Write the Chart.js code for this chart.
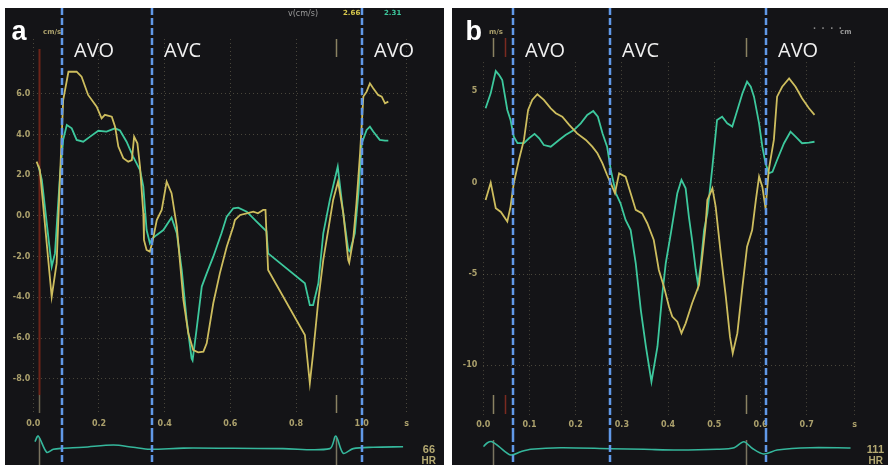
<!DOCTYPE html>
<html><head><meta charset="utf-8">
<script src="https://cdn.jsdelivr.net/npm/chart.js@4.4.1/dist/chart.umd.min.js"></script>
<style>
html,body{margin:0;padding:0;background:#fff;}
body{width:888px;height:465px;position:relative;overflow:hidden;}
.panel{position:absolute;background:#141417;overflow:hidden;}
canvas{position:absolute;left:0;}
</style></head>
<body>
<div class="panel" style="left:5px;top:8px;width:439px;height:457px;">
  <canvas id="mainA" width="439" height="427" style="top:0"></canvas>
  <canvas id="ecgA" width="439" height="30" style="top:427px"></canvas>
</div>
<div class="panel" style="left:452px;top:8px;width:436px;height:457px;">
  <canvas id="mainB" width="436" height="427" style="top:0"></canvas>
  <canvas id="ecgB" width="436" height="30" style="top:427px"></canvas>
</div>
<script>
// ---------- Panel a data (time s, velocity) ----------
const aYellowT = [0.010,0.020,0.056,0.071,0.081,0.091,0.107,0.132,0.147,0.167,0.193,0.208,0.218,0.239,0.249,0.259,0.274,0.289,0.300,0.307,0.317,0.325,0.335,0.337,0.345,0.355,0.363,0.376,0.391,0.406,0.421,0.437,0.457,0.472,0.487,0.502,0.518,0.528,0.548,0.568,0.589,0.609,0.614,0.630,0.650,0.670,0.684,0.700,0.707,0.710,0.715,0.827,0.842,0.852,0.868,0.883,0.903,0.913,0.928,0.944,0.959,0.962,0.974,0.984,0.995,1.005,1.015,1.025,1.035,1.050,1.061,1.071,1.081];
const aYellowV = [2.67,2.26,-3.97,-2.33,1.77,5.70,7.09,7.10,6.85,5.95,5.37,4.80,4.97,4.88,4.39,3.41,2.84,2.67,2.75,3.90,3.57,2.42,0.13,-1.18,-1.67,-1.75,-1.26,-0.20,0.30,1.69,1.12,-0.52,-4.13,-5.77,-6.59,-6.70,-6.67,-6.26,-4.29,-2.82,-1.51,-0.52,-0.20,0.05,0.13,0.21,0.13,0.30,0.30,-0.85,-2.65,-5.85,-8.22,-6.75,-4.13,-2.16,-0.20,0.79,1.69,0.13,-2.16,-2.30,-1.18,0.62,3.08,5.87,6.11,6.52,6.28,5.95,5.87,5.54,5.62];
const aGreenT = [0.015,0.026,0.056,0.066,0.081,0.091,0.102,0.117,0.132,0.152,0.173,0.198,0.223,0.249,0.264,0.284,0.304,0.325,0.335,0.345,0.355,0.363,0.376,0.396,0.421,0.437,0.452,0.467,0.482,0.485,0.497,0.513,0.528,0.548,0.573,0.589,0.609,0.624,0.650,0.680,0.710,0.715,0.827,0.842,0.852,0.868,0.883,0.903,0.927,0.944,0.959,0.964,0.979,0.990,1.000,1.015,1.025,1.035,1.055,1.071,1.081];
const aGreenV = [2.50,1.77,-2.49,-1.84,1.93,3.74,4.47,4.31,3.74,3.65,3.90,4.19,4.15,4.31,4.20,3.65,2.92,2.26,1.44,-0.69,-1.34,-1.10,-0.93,-0.69,-0.08,-0.85,-2.65,-5.11,-7.00,-7.10,-5.60,-3.47,-2.82,-2.00,-0.85,-0.03,0.38,0.41,0.21,-0.28,-0.75,-1.84,-3.31,-4.38,-4.38,-3.31,-0.85,0.79,2.42,0.10,-1.67,-1.75,-0.85,1.12,3.57,4.23,4.39,4.15,3.74,3.70,3.70];
const aEcgT = [0.005,0.015,0.041,0.061,0.086,0.152,0.244,0.304,0.355,0.457,0.609,0.760,0.903,0.921,0.944,0.974,1.035,1.126];
const aEcgV = [0.66,1.23,-0.40,-0.10,0.00,0.10,0.33,0.10,-0.10,0.02,0.00,-0.03,-0.03,1.23,-0.50,-0.03,0.10,0.16];
const aEvents = [0.088, 0.360, 1.000];
const aEventNames = ['AVO','AVC','AVO'];
const aMarkers = [0.018, 0.921];
const aXTicks = [0.0,0.2,0.4,0.6,0.8,1.0];
const aYTicks = [-8,-6,-4,-2,0,2,4,6];
const aHR = '66';

// ---------- Panel b data ----------
const bYellowT = [0.005,0.016,0.027,0.038,0.052,0.059,0.066,0.077,0.088,0.097,0.106,0.117,0.131,0.146,0.157,0.171,0.186,0.203,0.222,0.236,0.247,0.258,0.268,0.279,0.285,0.294,0.308,0.319,0.330,0.344,0.355,0.369,0.380,0.391,0.402,0.409,0.420,0.429,0.438,0.452,0.467,0.474,0.481,0.485,0.496,0.503,0.514,0.525,0.534,0.540,0.550,0.561,0.571,0.582,0.590,0.597,0.604,0.611,0.618,0.629,0.636,0.647,0.662,0.676,0.690,0.705,0.717];
const bYellowV = [-0.95,0.00,-1.40,-1.60,-2.13,-1.31,-0.03,1.24,2.34,3.98,4.53,4.84,4.53,4.07,3.80,3.61,3.16,2.70,2.34,1.97,1.61,1.06,0.42,-0.22,-0.58,0.51,0.33,-0.58,-1.49,-1.68,-2.22,-3.14,-4.78,-5.69,-6.79,-7.33,-7.61,-8.24,-7.70,-6.60,-5.60,-4.05,-2.41,-0.95,-0.31,-1.31,-3.87,-6.24,-8.43,-9.34,-8.24,-5.69,-3.50,-2.59,-0.95,0.33,-0.22,-1.40,0.70,2.34,4.71,5.25,5.71,5.25,4.62,4.07,3.71];
const bGreenT = [0.005,0.016,0.027,0.034,0.041,0.052,0.059,0.066,0.074,0.088,0.099,0.111,0.121,0.131,0.146,0.164,0.178,0.196,0.211,0.225,0.238,0.248,0.258,0.268,0.276,0.287,0.297,0.308,0.319,0.330,0.341,0.352,0.364,0.377,0.387,0.395,0.406,0.413,0.420,0.429,0.438,0.445,0.452,0.460,0.465,0.471,0.478,0.485,0.496,0.506,0.517,0.528,0.539,0.550,0.561,0.571,0.579,0.586,0.597,0.604,0.611,0.618,0.626,0.636,0.651,0.665,0.676,0.690,0.705,0.717];
const bGreenV = [4.07,4.89,6.11,5.90,5.62,3.98,3.43,2.52,2.16,2.16,2.43,2.67,2.43,2.06,1.97,2.34,2.61,2.88,3.25,3.71,3.92,3.61,2.70,1.97,0.70,-0.58,-1.13,-2.04,-2.59,-4.41,-6.97,-8.98,-10.89,-8.98,-6.24,-4.41,-2.77,-1.68,-0.58,0.15,-0.31,-1.86,-3.14,-4.78,-5.60,-4.41,-2.59,-1.68,0.88,3.43,3.61,3.25,3.07,3.98,4.89,5.53,5.25,4.71,3.25,1.97,1.06,0.51,0.60,1.24,2.16,2.79,2.52,2.16,2.19,2.24];
const bEcgT = [0.000,0.009,0.019,0.034,0.059,0.081,0.103,0.168,0.276,0.348,0.420,0.506,0.543,0.564,0.582,0.607,0.636,0.708,0.795];
const bEcgV = [0.16,0.56,0.66,0.16,-0.67,-0.34,-0.10,0.06,-0.04,-0.10,-0.17,-0.10,0.06,0.66,0.00,-0.57,-0.17,0.06,0.03];
const bEvents = [0.064, 0.274, 0.613];
const bEventNames = ['AVO','AVC','AVO'];
const bMarkers = [0.022, 0.047, 0.568];
const bXTicks = [0.0,0.1,0.2,0.3,0.4,0.5,0.6,0.7];
const bYTicks = [-10,-5,0,5];
const bHR = '111';

// ---------- styles ----------
const YELLOW = '#cdbd5e', GREEN = '#3dc89d', ECG = '#35b79c';
const TICK = '#aba06c', GRID = 'rgba(125,120,95,0.5)';
const BLUE = '#6199e8';
const tickFont = {family:'DejaVu Sans', size:8, weight:'bold'};

const pts = (ts, vs) => ts.map((t, i) => ({x: t, y: vs[i]}));

const overlay = {
  id: 'overlay',
  beforeDatasetsDraw(chart, args, o) {
    const ctx = chart.ctx, xs = chart.scales.x;
    ctx.save();
    (o.markers || []).forEach(m => {
      const px = Math.round(xs.getPixelForValue(m.t)) + 0.5;
      ctx.strokeStyle = m.color; ctx.lineWidth = m.w || 1.5;
      m.segs.forEach(s => { ctx.beginPath(); ctx.moveTo(px, s[0]); ctx.lineTo(px, s[1]); ctx.stroke(); });
    });
    ctx.restore();
  },
  afterDatasetsDraw(chart, args, o) {
    const ctx = chart.ctx, xs = chart.scales.x, H = chart.height;
    ctx.save();
    o.events.forEach((t, i) => {
      const px = Math.round(xs.getPixelForValue(t));
      ctx.strokeStyle = BLUE; ctx.lineWidth = 2.5; ctx.setLineDash([7, 3]);
      ctx.beginPath(); ctx.moveTo(px, 0); ctx.lineTo(px, H); ctx.stroke();
      if (o.names) {
        ctx.setLineDash([]);
        ctx.fillStyle = '#f0f0f0'; ctx.font = '20px "Open Sans"';
        ctx.textAlign = 'left'; ctx.textBaseline = 'alphabetic';
        ctx.fillText(o.names[i], px + 12, o.nameY);
      }
    });
    ctx.setLineDash([]);
    (o.texts || []).forEach(tx => {
      ctx.font = tx.font; ctx.fillStyle = tx.color;
      ctx.textAlign = tx.align || 'left'; ctx.textBaseline = tx.base || 'middle';
      ctx.fillText(tx.s, tx.x, tx.y);
    });
    ctx.restore();
  }
};

function mainChart(id, c) {
  return new Chart(document.getElementById(id), {
    type: 'line',
    data: { datasets: [
      {data: pts(c.yt, c.yv), borderColor: YELLOW, borderWidth: 1.8, pointRadius: 0, tension: 0, fill: false},
      {data: pts(c.gt, c.gv), borderColor: GREEN, borderWidth: 1.8, pointRadius: 0, tension: 0, fill: false}
    ]},
    options: {
      responsive: false, animation: false, devicePixelRatio: 1, events: [],
      layout: {padding: {left: 0, right: c.padR, top: c.padT, bottom: 0}},
      plugins: {legend: {display: false}, tooltip: {enabled: false}, overlay: c.overlay},
      scales: {
        x: {
          type: 'linear', min: 0, max: c.xmax,
          afterFit: s => { s.height = c.xh; },
          afterBuildTicks: s => { s.ticks = c.xticks.map(v => ({value: v})).concat([{value: c.xmax}]); },
          ticks: {autoSkip: false, maxRotation: 0, padding: c.xpad, font: tickFont, color: TICK,
                  callback: v => (v === c.xmax ? 's' : v.toFixed(1))},
          grid: {color: GRID, drawTicks: false, lineWidth: 1},
          border: {display: false, dash: [1, 3]}
        },
        y: {
          type: 'linear', min: c.ymin, max: c.ymax,
          afterFit: s => { s.width = c.yw; },
          afterBuildTicks: s => { s.ticks = c.yticks.map(v => ({value: v})); },
          ticks: {padding: c.ypad, font: tickFont, color: TICK, callback: c.yfmt},
          grid: {color: GRID, drawTicks: false, lineWidth: 1},
          border: {display: false, dash: [1, 3]}
        }
      }
    },
    plugins: [overlay]
  });
}

function ecgChart(id, c) {
  return new Chart(document.getElementById(id), {
    type: 'line',
    data: { datasets: [
      {data: pts(c.et, c.ev), borderColor: ECG, borderWidth: 1.6, pointRadius: 0, tension: 0.3, fill: false}
    ]},
    options: {
      responsive: false, animation: false, devicePixelRatio: 1, events: [],
      layout: {padding: {left: c.padL, right: c.padR, top: 0, bottom: 0}},
      plugins: {legend: {display: false}, tooltip: {enabled: false}, overlay: c.overlay},
      scales: {
        x: {type: 'linear', display: false, min: 0, max: c.xmax},
        y: {type: 'linear', display: false, min: -1.67, max: 1.33}
      }
    },
    plugins: [overlay]
  });
}

// Panel a
mainChart('mainA', {
  yt: aYellowT, yv: aYellowV, gt: aGreenT, gv: aGreenV,
  xmax: 1.137, ymin: -9.65, ymax: 8.7, padR: 37.3, padT: 31.0, xh: 22.7, yw: 28.3,
  xpad: 7, ypad: 3, xticks: aXTicks, yticks: aYTicks, yfmt: v => v.toFixed(1),
  overlay: {
    events: aEvents, names: aEventNames, nameY: 48.5,
    markers: [
      {t: aMarkers[0], color: '#6e2419', w: 2, segs: [[41, 387]]},
      {t: aMarkers[0], color: '#6d6650', w: 1.5, segs: [[387, 405]]},
      {t: aMarkers[1], color: '#8a8262', w: 1.5, segs: [[31, 49], [387, 405]]}
    ],
    texts: [
      {s: 'a', x: 6.5, y: 32, font: 'bold 27px "Liberation Sans"', color: '#ffffff', base: 'alphabetic'},
      {s: 'cm/s', x: 38, y: 24.5, font: 'bold 7px "DejaVu Sans"', color: TICK},
      {s: 'v(cm/s)', x: 283, y: 5.5, font: '8px "DejaVu Sans"', color: '#9a9a9a'},
      {s: '2.66', x: 338, y: 5.5, font: 'bold 7px "DejaVu Sans"', color: '#d8c94e'},
      {s: '2.31', x: 379, y: 5.5, font: 'bold 7px "DejaVu Sans"', color: GREEN}
    ]
  }
});
ecgChart('ecgA', {
  et: aEcgT, ev: aEcgV, xmax: 1.137, padL: 28.3, padR: 37.3,
  overlay: {
    events: aEvents,
    markers: [
      {t: aMarkers[0], color: '#7a7460', w: 1.5, segs: [[3, 30]]},
      {t: aMarkers[1], color: '#7a7460', w: 1.5, segs: [[3, 30]]}
    ],
    texts: [
      {s: aHR, x: 430, y: 15, font: 'bold 11px "Liberation Sans"', color: '#b5aa72', align: 'right'},
      {s: 'HR', x: 431, y: 26, font: 'bold 10px "Liberation Sans"', color: '#b5aa72', align: 'right'}
    ]
  }
});

// Panel b
mainChart('mainB', {
  yt: bYellowT, yv: bYellowV, gt: bGreenT, gv: bGreenV,
  xmax: 0.804, ymin: -12.7, ymax: 6.6, padR: 33.3, padT: 54.1, xh: 20.3, yw: 31.3,
  xpad: 5, ypad: 6, xticks: bXTicks, yticks: bYTicks, yfmt: v => String(v),
  overlay: {
    events: bEvents, names: bEventNames, nameY: 48.5,
    markers: [
      {t: bMarkers[0], color: '#8a8262', w: 1.5, segs: [[30, 49], [387, 406]]},
      {t: bMarkers[1], color: '#7a2a20', w: 1.5, segs: [[30, 49], [387, 406]]},
      {t: bMarkers[2], color: '#8a8262', w: 1.5, segs: [[30, 49], [387, 406]]}
    ],
    texts: [
      {s: 'b', x: 13.5, y: 32, font: 'bold 27px "Liberation Sans"', color: '#ffffff', base: 'alphabetic'},
      {s: 'm/s', x: 37, y: 24.5, font: 'bold 7px "DejaVu Sans"', color: TICK},
      {s: '·  ·  ·  ·', x: 361, y: 20.5, font: 'bold 8px "DejaVu Sans"', color: '#8a8a8a'},
      {s: 'cm', x: 388, y: 24.5, font: 'bold 7px "DejaVu Sans"', color: '#9a9a9a'}
    ]
  }
});
ecgChart('ecgB', {
  et: bEcgT, ev: bEcgV, xmax: 0.804, padL: 31.3, padR: 33.3,
  overlay: {
    events: bEvents,
    markers: [
      {t: bMarkers[0], color: '#7a7460', w: 1.5, segs: [[5, 30]]},
      {t: bMarkers[2], color: '#7a7460', w: 1.5, segs: [[5, 30]]}
    ],
    texts: [
      {s: bHR, x: 432, y: 15, font: 'bold 11px "Liberation Sans"', color: '#b5aa72', align: 'right'},
      {s: 'HR', x: 431, y: 26, font: 'bold 10px "Liberation Sans"', color: '#b5aa72', align: 'right'}
    ]
  }
});
</script>
</body></html>
